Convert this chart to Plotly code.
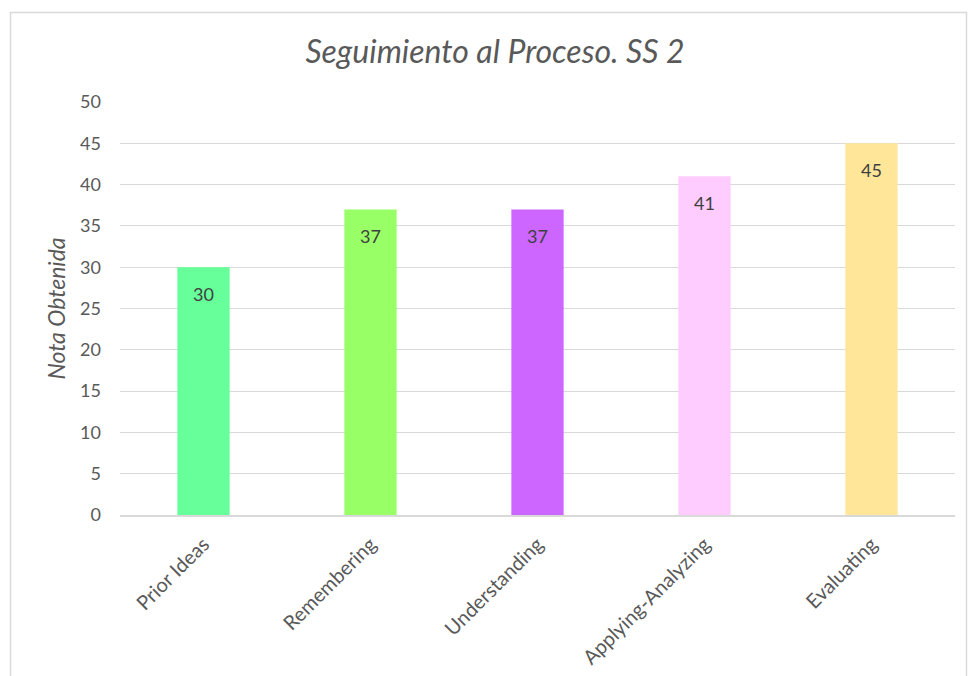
import plotly.graph_objects as go

categories = ["Prior Ideas", "Remembering", "Understanding", "Applying-Analyzing", "Evaluating"]
values = [30, 37, 37, 41, 45]
colors = ["#66FF99", "#99FF66", "#CC66FF", "#FFCCFF", "#FFE699"]
y_ticks = [0, 5, 10, 15, 20, 25, 30, 35, 40, 45, 50]

W, H = 968, 676
ml, mr, mt, mb = 120, 13, 102, 161
FONT = "Lato, Open Sans, sans-serif"

fig = go.Figure()
fig.add_trace(go.Bar(
    x=categories, y=values, marker=dict(color=colors, line=dict(width=0)),
    width=0.313, hoverinfo="skip",
))
for c, v in zip(categories, values):
    fig.add_annotation(x=c, y=v, text=str(v), showarrow=False, yshift=-27,
                       font=dict(family=FONT, size=18, color="#404040"))

# outer chart frame
pw, ph = W - ml - mr, H - mt - mb
def px_x(p): return (p - ml) / pw
def px_y(p): return (H - mb - p) / ph
fig.add_shape(type="rect", xref="paper", yref="paper",
              x0=px_x(10.5), x1=px_x(966.5), y0=px_y(700), y1=px_y(12.5),
              line=dict(color="#D9D9D9", width=1.5), fillcolor="rgba(0,0,0,0)", layer="below")

fig.update_layout(
    width=W, height=H,
    margin=dict(l=ml, r=mr, t=mt, b=mb, autoexpand=False),
    paper_bgcolor="white", plot_bgcolor="white",
    showlegend=False,
    title=dict(text="<i>Seguimiento al Proceso. SS 2</i>", x=495 / W, xanchor="center",
               y=1 - 52 / H, yanchor="middle",
               font=dict(family=FONT, size=32, color="#595959")),
    xaxis=dict(
        tickangle=-45, showgrid=False, showline=True, linecolor="#D9D9D9", linewidth=1.5,
        ticks="", ticklabelstandoff=8, automargin=False,
        tickfont=dict(family=FONT, size=20, color="#595959"),
    ),
    yaxis=dict(
        range=[0, 50], tickvals=y_ticks, showgrid=True, gridcolor="#D9D9D9", gridwidth=1.2,
        zeroline=False, showline=False, ticks="", ticklabelstandoff=18, automargin=False,
        tickfont=dict(family=FONT, size=18, color="#595959"),
        title=dict(text="<i>Nota Obtenida</i>", standoff=8,
                   font=dict(family=FONT, size=23, color="#595959")),
    ),
)

fig.write_html("out.html")
